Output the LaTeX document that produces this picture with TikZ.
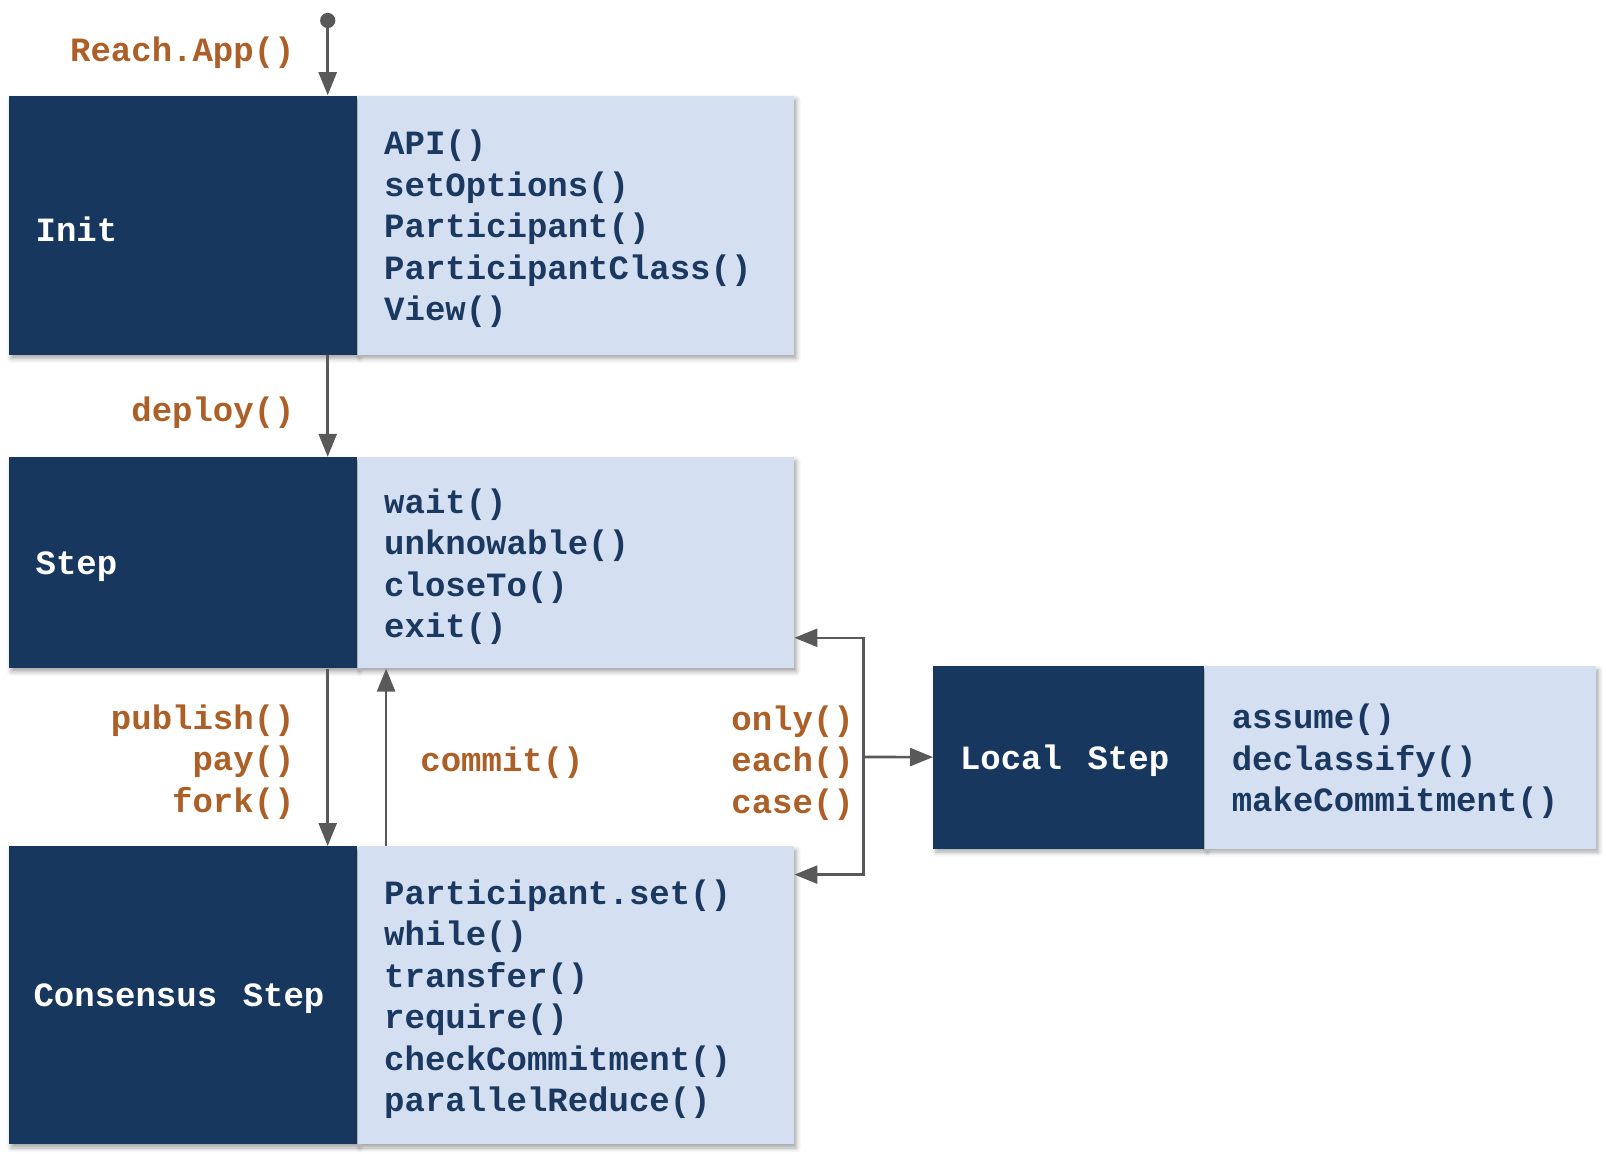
\documentclass[tikz,border=0pt]{standalone}
\usepackage{fontspec}
\newfontfamily\cour{Liberation Mono}
\usetikzlibrary{arrows.meta,shadows.blur}
\definecolor{navy}{RGB}{23,55,94}
\definecolor{pale}{RGB}{212,224,241}
\definecolor{ink}{RGB}{27,57,96}
\definecolor{rust}{RGB}{172,95,38}
\definecolor{wire}{RGB}{89,89,89}
\newcommand{\gap}{\hspace{12.8pt}}
\tikzset{
  mono/.style={font=\cour\bfseries\fontsize{17}{20.75}\selectfont},
  boxshadow/.style={blur shadow={shadow xshift=1.2pt,shadow yshift=-1.8pt,shadow blur radius=2.2pt,shadow opacity=35}},
  head/.style={fill=navy,anchor=north west,boxshadow,inner sep=0pt},
  body/.style={fill=pale,anchor=north west,boxshadow,inner sep=0pt},
  headtext/.style={mono,text=white,anchor=west,inner sep=0pt,align=left},
  bodytext/.style={mono,text=ink,anchor=west,inner sep=0pt,align=left},
  lbl/.style={mono,text=rust,inner sep=0pt},
  arr/.style={draw=wire,line width=1.3pt,-{Triangle[length=11.5pt,width=9pt]}}
}
\begin{document}
\begin{tikzpicture}[x=0.5pt,y=-0.5pt]
\useasboundingbox (0,0) rectangle (1606,1154);

% Init
\node[head,minimum width=174.1pt,minimum height=129.6pt] (init) at (8.2,95.2) {};
\node[body,minimum width=218.2pt,minimum height=129.6pt] (initL) at (init.north east) {};
\node[headtext] (initT) at ([xshift=13.5pt,yshift=-1.8pt]init.west) {Init};
\node[bodytext] (initB) at ([xshift=13.3pt,yshift=-2pt]initL.west)
  {API()\\setOptions()\\Participant()\\ParticipantClass()\\View()};

% Step
\node[head,minimum width=174.1pt,minimum height=105.5pt] (step) at (8.2,456.8) {};
\node[body,minimum width=218.2pt,minimum height=105.5pt] (stepL) at (step.north east) {};
\node[headtext] (stepT) at ([xshift=13.5pt,yshift=-1.8pt]step.west) {Step};
\node[bodytext] (stepB) at ([xshift=13.3pt,yshift=-2pt]stepL.west)
  {wait()\\unknowable()\\closeTo()\\exit()};

% Consensus step
\node[head,minimum width=174.1pt,minimum height=149pt] (cons) at (8.2,846) {};
\node[body,minimum width=218.2pt,minimum height=149pt] (consL) at (cons.north east) {};
\node[headtext] (consT) at ([xshift=12.5pt,yshift=-1.8pt]cons.west) {Consensus\gap Step};
\node[bodytext] (consB) at ([xshift=13.3pt,yshift=-2pt]consL.west)
  {Participant.set()\\while()\\transfer()\\require()\\checkCommitment()\\parallelReduce()};

% Local step
\node[head,minimum width=135.5pt,minimum height=91.2pt] (local) at (933,665.7) {};
\node[body,minimum width=195.4pt,minimum height=91.2pt] (localL) at (local.north east) {};
\node[headtext] (localT) at ([xshift=13.3pt,yshift=-1.8pt]local.west) {Local\gap Step};
\node[bodytext] (localB) at ([xshift=13.3pt,yshift=-2pt]localL.west)
  {assume()\\declassify()\\makeCommitment()};

% entry point and junctions
\coordinate (start) at (327.7,20.5);
\coordinate (up) at (386.1,0);
\coordinate (fork) at (863.4,757);
\fill[wire] (start) circle (3.8pt);

% connectors
\draw[arr] (start) -- (start |- init.north);
\draw[arr] (init.south -| start) -- (step.north -| start);
\draw[arr] (step.south -| start) -- (cons.north -| start);
\draw[arr] (cons.north -| up) -- (step.south -| up);
\draw[arr] (fork) |- ([yshift=15.4pt]stepL.south east);
\draw[arr] (fork) |- ([yshift=-14.3pt]consL.north east);
\draw[arr] (fork) -- (local);

% connector labels
\node[lbl,anchor=east] (lapp) at (295,53) {Reach.App()};
\node[lbl,anchor=east] (ldeploy) at (295,412.5) {deploy()};
\node[lbl,anchor=east,align=right] (lpub) at (295,762) {publish()\\pay()\\fork()};
\node[lbl,anchor=west] (lcommit) at (420,763) {commit()};
\node[lbl,anchor=west,align=left] (lonly) at (731,763) {only()\\each()\\case()};
\end{tikzpicture}
\end{document}
